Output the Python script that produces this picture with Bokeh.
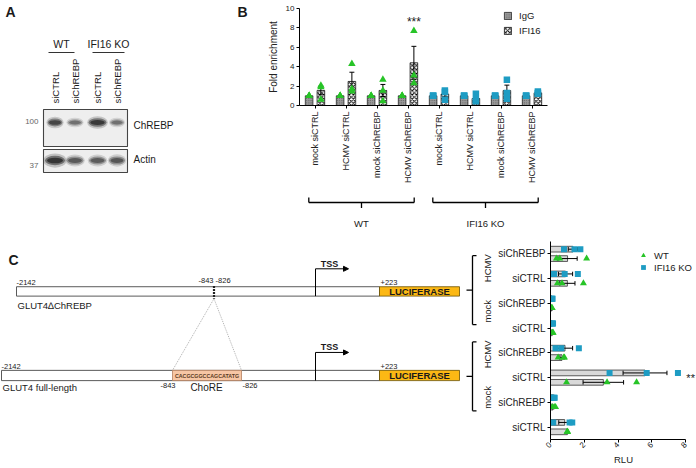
import numpy as np
from math import pi
from bokeh.plotting import figure
from bokeh.layouts import column, row
from bokeh.models import Range1d, FixedTicker, Legend, LegendItem, Arrow, NormalHead
from bokeh.core.properties import value
from bokeh.embed import file_html
from bokeh.resources import INLINE

FONT = "Liberation Sans"
INK = "#1a1a1a"
GREEN = "#27c427"
BLUE = "#1e9cc3"

# ---------------- Panel A : western blot ----------------
blot_groups = ["WT", "IFI16 KO"]
blot_lanes = ["siCTRL", "siChREBP", "siCTRL", "siChREBP"]
blot_targets = ["ChREBP", "Actin"]
blot_mw = ["100", "37"]
chrebp_intensity = [0.85, 0.55, 0.95, 0.55]
actin_intensity = [1.0, 0.70, 0.68, 0.72]

# ---------------- Panel B : ChIP fold enrichment ----------------
b_labels = ["mock siCTRL", "HCMV siCTRL", "mock siChREBP", "HCMV siChREBP",
            "mock siCTRL", "HCMV siCTRL", "mock siChREBP", "HCMV siChREBP"]
b_genotype = ["WT", "WT", "WT", "WT", "IFI16 KO", "IFI16 KO", "IFI16 KO", "IFI16 KO"]
b_igg_mean = [1.0, 1.0, 1.0, 1.0, 1.0, 1.0, 1.0, 1.0]
b_igg_points = [[1.0, 1.0, 1.0], [1.0, 1.0, 1.0], [1.0, 1.0, 1.0], [1.0, 1.0, 1.0],
                [1.0, 1.0, 1.0], [1.0, 1.0, 1.0], [1.0, 1.0, 1.0], [1.0, 1.0, 1.0]]
b_ifi16_mean = [1.55, 2.48, 1.55, 4.40, 1.18, 0.72, 1.54, 1.30]
b_ifi16_sem = [0.45, 0.95, 0.62, 1.70, 0.30, 0.26, 0.56, 0.10]
b_ifi16_points = [[2.05, 1.90, 0.60], [4.30, 1.45, 1.73], [2.66, 1.55, 0.45], [7.70, 3.10, 2.30],
                  [1.55, 1.40, 0.60], [1.20, 0.45, 0.55], [2.65, 1.28, 0.69], [1.45, 1.30, 1.20]]
b_stars = ["", "", "", "***", "", "", "", ""]
b_yticks = [0, 2, 4, 6, 8, 10]

# ---------------- Panel C : luciferase reporter (RLU) ----------------
c_construct = ["GLUT4\u2206ChREBP"] * 4 + ["GLUT4 full-length"] * 4
c_infection = ["HCMV", "HCMV", "mock", "mock", "HCMV", "HCMV", "mock", "mock"]
c_sirna = ["siChREBP", "siCTRL", "siChREBP", "siCTRL", "siChREBP", "siCTRL", "siChREBP", "siCTRL"]
c_wt_mean = [1.01, 1.00, 0.08, 0.10, 0.68, 3.13, 0.15, 1.00]
c_wt_sem = [0.57, 0.45, 0.03, 0.03, 0.12, 1.20, 0.05, 0.03]
c_wt_points = [[0.55, 0.35, 2.14], [0.68, 0.41, 1.95], [0.05, 0.08, 0.10], [0.12, 0.16, 0.10],
               [0.45, 0.83, 0.78], [0.95, 3.35, 5.10], [0.10, 0.22, 0.30], [1.00, 1.02, 0.98]]
c_ko_mean = [1.33, 0.89, 0.08, 0.10, 0.86, 5.60, 0.18, 0.84]
c_ko_sem = [0.28, 0.42, 0.03, 0.03, 0.45, 1.30, 0.08, 0.35]
c_ko_points = [[1.42, 0.80, 1.77], [0.21, 0.84, 1.62], [0.12, 0.10, 0.05], [0.12, 0.10, 0.15],
               [0.64, 0.30, 1.68], [3.50, 5.70, 7.55], [0.10, 0.25, 0.20], [0.16, 1.13, 1.29]]
c_stars = ["", "", "", "", "", "**", "", ""]
c_xticks = [0, 2, 4, 6, 8]


# ---------------- helpers ----------------
def canvas(w, h, xr, yr):
    p = figure(width=w, height=h, x_range=Range1d(*xr), y_range=Range1d(*yr),
               x_axis_location=None, y_axis_location=None, output_backend="svg",
               toolbar_location=None, min_border=0)
    p.grid.visible = False
    p.outline_line_color = None
    return p


def txt(p, x, y, s, size, align="left", baseline="middle", bold=False, angle=0.0, color=INK):
    p.text(x=[x], y=[y], text=[s], text_font=value(FONT), text_font_size=value(f"{size}px"),
           text_align=align, text_baseline=baseline,
           text_font_style="bold" if bold else "normal", angle=angle, text_color=color)


def style_axis(ax, size="8px"):
    ax.axis_line_color = "black"
    ax.axis_line_width = 1
    ax.major_tick_line_color = "black"
    ax.major_tick_in = 0
    ax.major_tick_out = 3
    ax.minor_tick_line_color = None
    ax.major_label_text_font = FONT
    ax.major_label_text_font_size = size
    ax.major_label_text_color = "#222222"
    ax.axis_label_text_font = FONT
    ax.axis_label_text_font_style = "normal"
    ax.axis_label_text_color = "#222222"


# ================= Panel A =================
pa = canvas(250, 236, (0, 250), (236, 0))
txt(pa, 5, 3, "A", 14, "left", "top", bold=True)
txt(pa, 237, 3, "B", 14, "left", "top", bold=True)

lane_x = [54.5, 74.5, 97.0, 116.5]
group_span = [(48, 74), (92, 124)]
for (x0, x1), g in zip(group_span, blot_groups):
    txt(pa, (x0 + x1) / 2, 43, g, 10.5, "center", "middle")
    pa.segment(x0=[x0], y0=[52], x1=[x1], y1=[52], line_color="#333333", line_width=1)
for x, lab in zip(lane_x, blot_lanes):
    txt(pa, x, 103, lab, 9.5, "left", "middle", angle=pi / 2)

blot_boxes = [(109, 146, 122, chrebp_intensity, [15, 15, 18, 14], 4.0),
              (149, 172, 160, actin_intensity, [20, 17, 17, 16], 5.0)]
for top, bot, yb, inten, widths, hb in blot_boxes:
    pa.quad(left=[43], right=[127], top=[top], bottom=[bot], fill_color="#eeeeee",
            line_color="#444444", line_width=1.1)
    for k, (sw, sh, a) in enumerate([(1.15, 1.5, 0.2), (1.0, 1.0, 0.45), (0.8, 0.6, 0.6)]):
        pa.ellipse(x=lane_x, y=[yb] * 4, width=[w * sw for w in widths],
                   height=[(hb + 4.5 * v) * sh for v in inten], fill_color="#0d0d0d",
                   fill_alpha=[a * v for v in inten], line_color=None)
for yb, mw in zip([121, 165], blot_mw):
    txt(pa, 38, yb, mw, 8, "right", "middle", color="#666666")
for yb, t in zip([125, 159], blot_targets):
    txt(pa, 133, yb, t, 10, "left", "middle")

# ================= Panel B =================
nb = len(b_labels)
xb = np.arange(nb) + 0.5
off, bw = 0.19, 0.245
pb = figure(width=446, height=190, x_range=Range1d(0, nb), y_range=Range1d(0, 10),
            output_backend="svg", toolbar_location=None,
            min_border_left=49, min_border_right=149, min_border_top=8, min_border_bottom=85)
pb.grid.visible = False
pb.outline_line_color = None

r_igg = pb.vbar(x=xb - off, top=b_igg_mean, width=bw, bottom=0, fill_color="#9a9a9a",
                line_color="#2a2a2a", line_width=0.8, hatch_pattern="dot",
                hatch_color="#4a4a4a", hatch_scale=2.2, hatch_weight=0.9)
r_ifi = pb.vbar(x=xb + off, top=b_ifi16_mean, width=bw, bottom=0, fill_color="white",
                line_color="#1a1a1a", line_width=0.8, hatch_pattern="diagonal_cross",
                hatch_color="black", hatch_scale=4.2, hatch_weight=1.0)

xe = xb + off
lo = np.array(b_ifi16_mean) - np.array(b_ifi16_sem)
hi = np.array(b_ifi16_mean) + np.array(b_ifi16_sem)
pb.segment(x0=xe, y0=lo, x1=xe, y1=hi, line_color="black", line_width=1)
pb.segment(x0=xe - 0.08, y0=hi, x1=xe + 0.08, y1=hi, line_color="black", line_width=1)
pb.segment(x0=xe - 0.08, y0=lo, x1=xe + 0.08, y1=lo, line_color="black", line_width=1)

px, py, pc, pm, ps = [], [], [], [], []
for i in range(nb):
    col = GREEN if b_genotype[i] == "WT" else BLUE
    mk = "triangle" if b_genotype[i] == "WT" else "square"
    sz = 7.5 if mk == "triangle" else 6.5
    for v in b_igg_points[i]:
        px.append(xb[i] - off); py.append(v); pc.append(col); pm.append(mk); ps.append(sz)
    for v in b_ifi16_points[i]:
        px.append(xb[i] + off); py.append(v); pc.append(col); pm.append(mk); ps.append(sz)
pb.scatter(x=px, y=py, marker=pm, size=ps, fill_color=pc, line_color=None)

for i, s in enumerate(b_stars):
    if s:
        pb.text(x=[xb[i] + off], y=[max(b_ifi16_points[i]) + 0.9], text=[s],
                text_font=value(FONT), text_font_size=value("12px"), text_align="center",
                text_baseline="middle", text_color=INK)

pb.xaxis.ticker = FixedTicker(ticks=list(xb))
pb.xaxis.major_label_overrides = {float(x): lab for x, lab in zip(xb, b_labels)}
pb.xaxis.major_label_orientation = pi / 2
pb.xaxis.major_label_standoff = 3
style_axis(pb.xaxis[0], "9px")
pb.yaxis.ticker = FixedTicker(ticks=b_yticks)
pb.yaxis.bounds = (0, 10)
pb.yaxis.axis_label = "Fold enrichment"
pb.yaxis.axis_label_standoff = 4
pb.yaxis.major_label_standoff = 2
style_axis(pb.yaxis[0], "8px")
pb.yaxis.axis_label_text_font_size = "10px"

leg_b = Legend(items=[LegendItem(label="IgG", renderers=[r_igg]),
                      LegendItem(label="IFI16", renderers=[r_ifi])],
               location=(204, 69), glyph_width=9, glyph_height=9, label_height=9,
               label_width=10, spacing=4, padding=0, margin=0, label_standoff=7,
               border_line_color=None, background_fill_alpha=0,
               label_text_font=FONT, label_text_font_size="9.5px", label_text_color=INK)
pb.add_layout(leg_b)

# brackets under panel B
pbs = figure(width=446, height=46, x_range=pb.x_range, y_range=Range1d(236, 190),
             x_axis_location=None, y_axis_location=None, output_backend="svg",
             toolbar_location=None, min_border_left=49, min_border_right=149,
             min_border_top=0, min_border_bottom=0)
pbs.grid.visible = False
pbs.outline_line_color = None
for g in blot_groups:
    idx = [i for i, gg in enumerate(b_genotype) if gg == g]
    x0, x1 = xb[idx[0]] - 0.2, xb[idx[-1]] + 0.2
    xm = (x0 + x1) / 2
    pbs.segment(x0=[x0, x1, x0, xm], y0=[197, 197, 202, 202], x1=[x0, x1, x1, xm],
                y1=[202, 202, 202, 207.5], line_color="black", line_width=1.3)
    txt(pbs, xm, 223, g, 9.5, "center", "middle")

# ================= Panel C (schematic) =================
pcl = canvas(495, 232, (0, 495), (468, 236))
txt(pcl, 8, 248, "C", 14, "left", "top", bold=True)

LUC = "#fcb814"
constructs = [(16, 289, 300, "GLUT4\u2206ChREBP", 311), (1, 387, 399, "GLUT4 full-length", 407)]
for xs, yt, ybot, name, yl in constructs:
    pcl.quad(left=[xs], right=[379], top=[yt], bottom=[ybot], fill_color="white",
             line_color="#5a5a5a", line_width=1)
    pcl.quad(left=[379], right=[459], top=[yt], bottom=[ybot], fill_color=LUC,
             line_color="#6b5200", line_width=0.8)
    txt(pcl, 419, (yt + ybot) / 2 + 0.5, "LUCIFERASE", 9.5, "center", "middle", bold=True)
    txt(pcl, xs, yt - 2, "-2142", 7.5, "left", "bottom")
    txt(pcl, 380, yt - 2, "+223", 7.5, "left", "bottom")
    # TSS
    pcl.segment(x0=[315], y0=[ybot], x1=[315], y1=[yt - 21], line_color="black", line_width=1)
    pcl.add_layout(Arrow(x_start=315, y_start=yt - 21, x_end=348, y_end=yt - 21, line_width=1,
                         line_color="black",
                         end=NormalHead(size=5, fill_color="black", line_color="black")))
    txt(pcl, 329, yt - 27, "TSS", 9, "center", "middle", bold=True)
    txt(pcl, xs + 1, yl, name, 9.5, "left", "middle")

# deletion mark and coordinates on the top construct
txt(pcl, 198, 287, "-843 -826", 7.5, "left", "bottom")
pcl.segment(x0=[213.5], y0=[288], x1=[213.5], y1=[303], line_color="#222222", line_width=2.2,
            line_dash="2 1")
pcl.segment(x0=[213.5, 213.5], y0=[303, 303], x1=[172, 241], y1=[387, 387],
            line_color="#9a9a9a", line_width=0.8, line_dash="1 1")
# ChoRE box
pcl.quad(left=[172], right=[241], top=[387], bottom=[399], fill_color="#f7c6a4",
         line_color="#b5805f", line_width=0.8)
txt(pcl, 206.5, 393.5, "CACGCGGCCAGCATATG", 5.3, "center", "middle", bold=True, color="#5a3a22")
txt(pcl, 160, 405, "-843", 7.5, "left", "middle")
txt(pcl, 206, 407.5, "ChoRE", 10, "center", "middle")
txt(pcl, 242, 405, "-826", 7.5, "left", "middle")

# ================= Panel C (RLU chart) =================
nc = len(c_sirna)
CR_TOP, CR_BOT = 241.0, 443.0
yc = nc - 0.5 - np.arange(nc)
coff, bh = 0.19, 0.23
pcr = figure(width=201, height=232, x_range=Range1d(0, 8.65), y_range=Range1d(0, nc),
             output_backend="svg", toolbar_location=None,
             min_border_left=54, min_border_right=0, min_border_top=5, min_border_bottom=25)
pcr.grid.visible = False
pcr.outline_line_color = None

for means, sems, sign in [(c_ko_mean, c_ko_sem, 1), (c_wt_mean, c_wt_sem, -1)]:
    yy = yc + sign * coff
    pcr.hbar(y=yy, left=0, right=means, height=bh, fill_color="#d9d9d9",
             line_color="#333333", line_width=0.8)
    lo = np.maximum(np.array(means) - np.array(sems), 0)
    hi = np.array(means) + np.array(sems)
    pcr.segment(x0=lo, y0=yy, x1=hi, y1=yy, line_color="black", line_width=1)
    pcr.segment(x0=hi, y0=yy - 0.09, x1=hi, y1=yy + 0.09, line_color="black", line_width=1)
    pcr.segment(x0=lo, y0=yy - 0.09, x1=lo, y1=yy + 0.09, line_color="black", line_width=1)

kx, ky, wx, wy = [], [], [], []
for i in range(nc):
    for v in c_ko_points[i]:
        kx.append(v); ky.append(yc[i] + coff)
    for v in c_wt_points[i]:
        wx.append(v); wy.append(yc[i] - coff)
r_wt = pcr.scatter(x=wx, y=wy, marker="triangle", size=7, fill_color=GREEN, line_color=None)
r_ko = pcr.scatter(x=kx, y=ky, marker="square", size=6, fill_color=BLUE, line_color=None)

for i, s in enumerate(c_stars):
    if s:
        pcr.text(x=[8.05], y=[yc[i]], text=[s], text_font=value(FONT),
                 text_font_size=value("11px"), text_align="left", text_baseline="middle",
                 text_color=INK)

pcr.xaxis.ticker = FixedTicker(ticks=c_xticks)
pcr.xaxis.bounds = (0, 8)
pcr.xaxis.major_label_orientation = pi / 4
pcr.xaxis.axis_label = "RLU"
pcr.xaxis.major_label_standoff = 1
pcr.xaxis.axis_label_standoff = 1
style_axis(pcr.xaxis[0], "8px")
pcr.xaxis.axis_label_text_font_size = "9.5px"
pcr.yaxis.ticker = FixedTicker(ticks=list(yc))
pcr.yaxis.major_label_overrides = {float(y): s for y, s in zip(yc, c_sirna)}
pcr.yaxis.major_label_standoff = 2
style_axis(pcr.yaxis[0], "10px")

for lab, rr, vy in [("WT", r_wt, 178), ("IFI16 KO", r_ko, 166)]:
    lg = Legend(items=[LegendItem(label=lab, renderers=[rr])], location=(87, vy),
                glyph_width=12, glyph_height=12, label_height=12, label_width=10,
                padding=0, margin=0, label_standoff=5, border_line_color=None,
                background_fill_alpha=0, label_text_font=FONT,
                label_text_font_size="9.5px", label_text_color=INK)
    pcr.add_layout(lg)

# group brackets (HCMV / mock) aligned with the RLU rows
row_y = [CR_TOP + (i + 0.5) * (CR_BOT - CR_TOP) / nc for i in range(nc)]
for cname in dict.fromkeys(c_construct):
    idx = [i for i, c in enumerate(c_construct) if c == cname]
    y0, y1 = row_y[idx[0]] - 1, row_y[idx[-1]] + 4
    ym = (y0 + y1) / 2
    pcl.segment(x0=[472, 472, 472, 472], y0=[y0, y0, y1, ym], x1=[472, 476, 476, 466],
                y1=[y1, y0, y1, ym], line_color="black", line_width=1.3)
    for inf in dict.fromkeys(c_infection[i] for i in idx):
        sub = [i for i in idx if c_infection[i] == inf]
        yy = (row_y[sub[0]] + row_y[sub[-1]]) / 2 + 1
        txt(pcl, 487, yy, inf, 9.5, "center", "middle", angle=pi / 2)

layout = column(row(pa, column(pb, pbs)), row(pcl, pcr))
open("out.html", "w").write(file_html(layout, INLINE))
